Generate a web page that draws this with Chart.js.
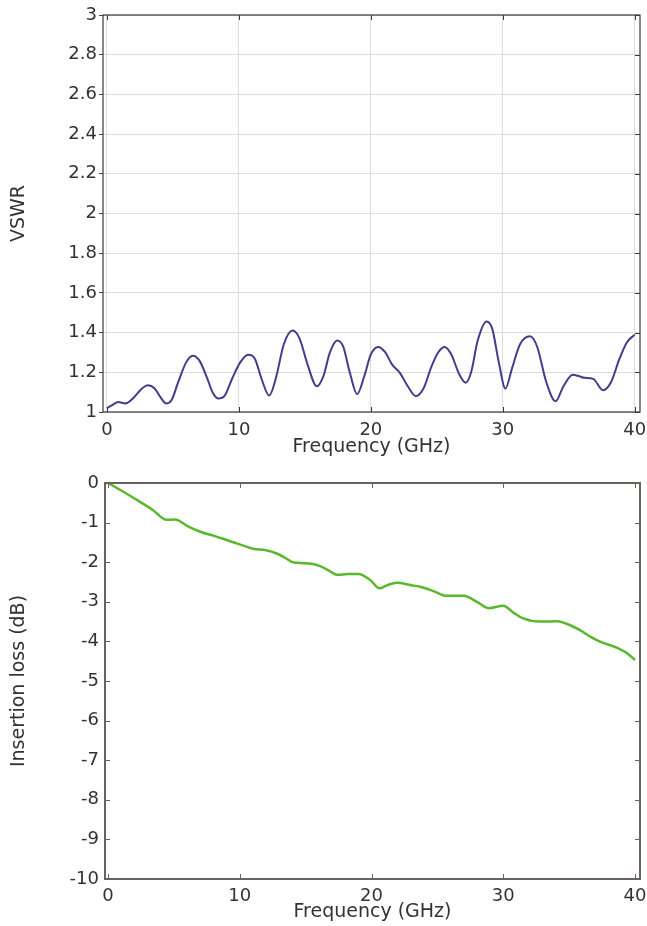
<!DOCTYPE html>
<html>
<head>
<meta charset="utf-8">
<script src="https://cdn.jsdelivr.net/npm/chart.js@4.4.1/dist/chart.umd.min.js"></script>
<style>
  body { margin: 0; background: #fff; }
  canvas { position: absolute; left: 0; }
  #vswrChart { top: 0; }
  #lossChart { top: 463px; }
</style>
</head>
<body>
<canvas id="vswrChart" width="647" height="463"></canvas>
<canvas id="lossChart" width="647" height="463"></canvas>
<script>
// frequency axis (GHz)
const freqTicks = [0, 10, 20, 30, 40];

// VSWR curve
const vswrFreq = [0, 0.4, 0.85, 1.4, 2.0, 2.6, 3.1, 3.6, 4.0, 4.5, 4.9, 5.4, 6.0, 6.5, 7.0, 7.6, 8.0, 8.45, 8.9, 9.5,
  10.1, 10.7, 11.2, 11.7, 12.3, 12.8, 13.4, 14.07, 14.6, 15.2, 15.9, 16.4, 16.9, 17.45, 17.9, 18.4, 18.96, 19.5,
  20.0, 20.55, 21.1, 21.6, 22.2, 22.8, 23.4, 24.0, 24.6, 25.1, 25.6, 26.1, 26.7, 27.2, 27.6, 28.1, 28.77, 29.2,
  29.7, 30.2, 30.7, 31.3, 32.05, 32.6, 33.3, 34.0, 34.6, 35.3, 35.8, 36.2, 36.85, 37.6, 38.2, 38.8, 39.4, 40.0];
const vswrValues = [1.02, 1.035, 1.05, 1.043, 1.07, 1.115, 1.135, 1.12, 1.08, 1.043, 1.06, 1.15, 1.25, 1.284, 1.26, 1.17, 1.10, 1.068, 1.08, 1.17,
  1.25, 1.289, 1.27, 1.17, 1.083, 1.17, 1.34, 1.41, 1.37, 1.24, 1.13, 1.18, 1.30, 1.36, 1.33, 1.20, 1.09, 1.18,
  1.29, 1.328, 1.30, 1.24, 1.197, 1.13, 1.08, 1.12, 1.23, 1.30, 1.328, 1.29, 1.19, 1.147, 1.20, 1.36, 1.456, 1.42,
  1.25, 1.118, 1.22, 1.34, 1.381, 1.33, 1.15, 1.054, 1.13, 1.188, 1.18, 1.172, 1.167, 1.11, 1.15, 1.26, 1.35, 1.39];
const vswrTicks = [1, 1.2, 1.4, 1.6, 1.8, 2, 2.2, 2.4, 2.6, 2.8, 3];

// insertion loss curve (dB)
const lossFreq = [0, 1.0, 2.4, 3.4, 4.45, 5.1, 6.0, 7.0, 8.0, 9.0, 10.0, 11.0, 12.0, 12.8, 13.5, 14.1, 15.3, 16.1, 16.8,
  17.4, 18.2, 19.0, 19.9, 20.6, 21.2, 21.9, 23.0, 23.7, 24.7, 25.7, 27.0, 28.0, 28.9, 30.0, 30.8, 31.5, 32.8,
  34.1, 35.0, 36.0, 36.7, 37.3, 38.7, 39.4, 40.0];
const lossValues = [0, -0.19, -0.47, -0.68, -0.93, -0.92, -1.08, -1.23, -1.33, -1.44, -1.55, -1.66, -1.70, -1.78, -1.90, -2.01, -2.03, -2.10, -2.22,
  -2.32, -2.30, -2.30, -2.45, -2.66, -2.58, -2.52, -2.58, -2.62, -2.73, -2.85, -2.85, -3.00, -3.16, -3.10, -3.28, -3.42, -3.50,
  -3.49, -3.58, -3.75, -3.90, -4.00, -4.17, -4.30, -4.47];
const lossTicks = [0, -1, -2, -3, -4, -5, -6, -7, -8, -9, -10];

Chart.defaults.font.family = "'DejaVu Sans', sans-serif";
Chart.defaults.color = "#333";

function toPoints(xs, ys) {
  return xs.map((x, i) => ({ x: x, y: ys[i] }));
}

// frame round the plot area plus short ticks pointing inwards
const framePlugin = {
  id: "frame",
  afterDraw(chart, args, opts) {
    const { ctx, chartArea: a, scales } = chart;
    ctx.save();
    ctx.strokeStyle = opts.color;
    ctx.lineWidth = opts.width;
    ctx.strokeRect(a.left, a.top, a.right - a.left, a.bottom - a.top);
    ctx.lineWidth = 1;
    const len = 5;
    scales.x.ticks.forEach(t => {
      const px = Math.round(scales.x.getPixelForValue(t.value)) + 0.5;
      ctx.beginPath();
      ctx.moveTo(px, a.top); ctx.lineTo(px, a.top + len);
      ctx.moveTo(px, a.bottom); ctx.lineTo(px, a.bottom - len);
      ctx.stroke();
    });
    scales.y.ticks.forEach(t => {
      const py = Math.round(scales.y.getPixelForValue(t.value)) + 0.5;
      ctx.beginPath();
      ctx.moveTo(a.right, py); ctx.lineTo(a.right - len, py);
      if (opts.leftInside) { ctx.moveTo(a.left, py); ctx.lineTo(a.left + len, py); }
      ctx.stroke();
    });
    ctx.restore();
  }
};

function fixedTicks(list) {
  return scale => { scale.ticks = list.map(v => ({ value: v })); };
}

// no extra room for the overhanging end labels
function fitX(h) {
  return s => { s.height = h; s.paddingLeft = 0; s.paddingRight = 0; };
}

const plainLabel = v => String(v);

new Chart(document.getElementById("vswrChart"), {
  type: "line",
  data: {
    datasets: [{
      data: toPoints(vswrFreq, vswrValues),
      borderColor: "#423d8c",
      borderWidth: 2,
      pointRadius: 0,
      cubicInterpolationMode: "monotone"
    }]
  },
  options: {
    responsive: false,
    animation: false,
    layout: { padding: { top: 15, right: 7, left: 0, bottom: 0 } },
    plugins: {
      legend: { display: false },
      tooltip: { enabled: false },
      frame: { color: "#3a3a3a", width: 1.2, leftInside: false }
    },
    scales: {
      x: {
        type: "linear", min: -0.3, max: 40.4,
        afterBuildTicks: fixedTicks(freqTicks),
        afterFit: fitX(51),
        grid: { color: "#dddddd", drawTicks: false },
        border: { display: false },
        ticks: { font: { size: 18 }, padding: 8, maxRotation: 0, callback: plainLabel },
        title: { display: true, text: "Frequency (GHz)", font: { size: 19 }, padding: { top: 0, bottom: 5 } }
      },
      y: {
        min: 1, max: 3,
        afterBuildTicks: fixedTicks(vswrTicks),
        afterFit: s => { s.width = 103; },
        grid: { color: "#dddddd", tickLength: 4, tickColor: "#444" },
        border: { display: false },
        ticks: { font: { size: 18 }, padding: 2, callback: plainLabel },
        title: { display: true, text: "VSWR", font: { size: 19 }, padding: { top: 8, bottom: 0 } }
      }
    }
  },
  plugins: [framePlugin]
});

new Chart(document.getElementById("lossChart"), {
  type: "line",
  data: {
    datasets: [{
      data: toPoints(lossFreq, lossValues),
      borderColor: "#5ab82c",
      borderWidth: 2.5,
      pointRadius: 0,
      cubicInterpolationMode: "monotone"
    }]
  },
  options: {
    responsive: false,
    animation: false,
    layout: { padding: { top: 20, right: 7, left: 0, bottom: 0 } },
    plugins: {
      legend: { display: false },
      tooltip: { enabled: false },
      frame: { color: "#6a625e", width: 2, leftInside: true }
    },
    scales: {
      x: {
        type: "linear", min: -0.23, max: 40.38,
        afterBuildTicks: fixedTicks(freqTicks),
        afterFit: fitX(47),
        grid: { display: false, drawTicks: false },
        border: { display: false },
        ticks: { font: { size: 18 }, padding: 7, maxRotation: 0, callback: plainLabel },
        title: { display: true, text: "Frequency (GHz)", font: { size: 19 }, padding: { top: 0, bottom: 3 } }
      },
      y: {
        min: -10, max: 0,
        afterBuildTicks: fixedTicks(lossTicks),
        afterFit: s => { s.width = 105; },
        grid: { display: false, drawTicks: false },
        border: { display: false },
        ticks: { font: { size: 18 }, padding: 6, callback: plainLabel },
        title: { display: true, text: "Insertion loss (dB)", font: { size: 19 }, padding: { top: 8, bottom: 0 } }
      }
    }
  },
  plugins: [framePlugin]
});
</script>
</body>
</html>
